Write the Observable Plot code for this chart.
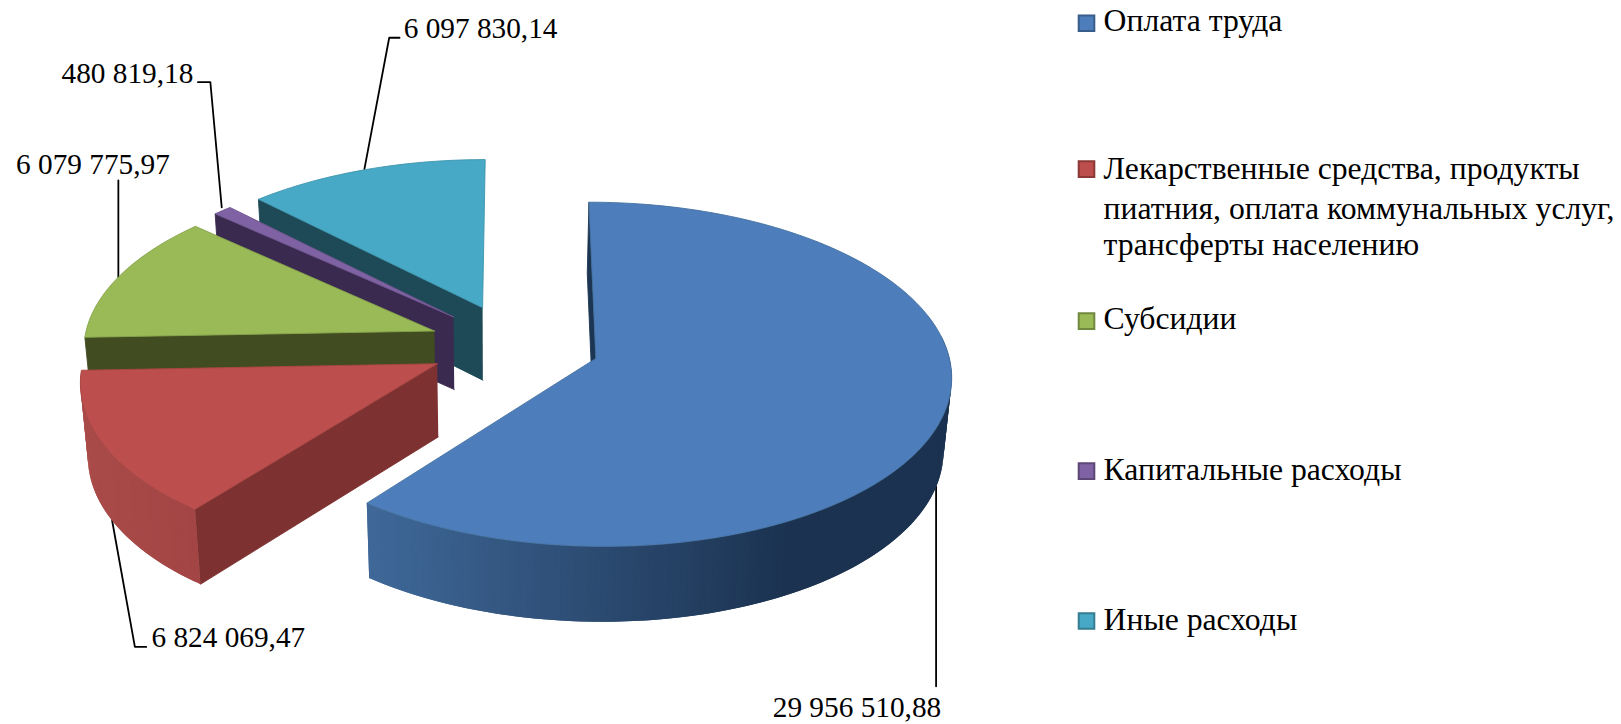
<!DOCTYPE html>
<html><head><meta charset="utf-8">
<script src="https://cdn.jsdelivr.net/npm/d3@7"></script>
<script src="https://cdn.jsdelivr.net/npm/@observablehq/plot@0.6"></script>
<style>html,body{margin:0;padding:0;background:#fff}svg{display:block}</style>
</head><body><div id="chart"></div>
<script>
const categories = ["Оплата труда","Лекарственные средства, продукты питания, оплата коммунальных услуг, трансферты населению","Субсидии","Капитальные расходы","Иные расходы"];
const values = [29956510.88, 6824069.47, 6079775.97, 480819.18, 6097830.14];
const valueLabels = ["29 956 510,88","6 824 069,47","6 079 775,97","480 819,18","6 097 830,14"];
const topColors = ["#4d7ebb","#bc4f4d","#99ba56","#7f62a3","#47a9c5"];
const edgeColors = ["#44709f","#a84644","#87a44c","#70568f","#3e94ad"];
const sideColors = ["#1c3552","#7d3130","#424c21","#3a2a4f","#1d4a56"];
const swatchBorders = ["#385d8a","#8c3836","#71893f","#5c4776","#357d91"];
const rimDark = ["#1b3250","#a24544"];
const rimLight = ["#3f6898","#a94b49"];

// Tilted, exploded pie in perspective
const cx=497, cy=333, R=339.5, Ry=162.6, k=0.0917, explode=0.244, depth=70.5, vx=480, shrink=0.018;
function project(a,b,bottom){
  const s=1/(1-k*b);
  let X=cx+R*a*s, Y=cy+Ry*b*s;
  if(bottom){X+=(vx-X)*shrink; Y+=depth*(1+(s-1)*0.3);}
  return [X,Y];
}
const arcs=d3.pie().sort(null).startAngle(0).endAngle(2*Math.PI)(values);
const pts=[]; let faceId=0;
function face(list,fill,stroke){
  const id=faceId++;
  for(const [x,y] of list) pts.push({x,y,id,fill,stroke});
}
const deg=Math.PI/180;
const order=[4,3,2,1,0];
for(const i of order){
  const {startAngle:a0,endAngle:a1}=arcs[i], mid=(a0+a1)/2;
  const ox=explode*Math.sin(mid), oy=-explode*Math.cos(mid);
  const at=(t,bottom)=>project(ox+Math.sin(t),oy-Math.cos(t),bottom);
  const apex=bottom=>project(ox,oy,bottom);
  // radial face at start angle
  face([apex(false),at(a0,false),at(a0,true),apex(true)],sideColors[i],sideColors[i]);
  // outer rim, front part only, in overlapping strips painted one over the other
  if(i<2){
    const lo=Math.max(a0,82*deg), hi=Math.min(a1,282*deg), n=Math.ceil((hi-lo)/(1*deg));
    const col=d3.interpolateRgb(rimDark[i],rimLight[i]);
    const [xl,xr]=i===0?[360,770]:[80,190];
    for(let j=0;j<n;j++){
      const t0=lo+(hi-lo)*j/n, t1=lo+(hi-lo)*Math.min(n,j+2)/n;
      const X=at(t0,false)[0];
      const c=col(Math.min(1,Math.max(0,(xr-X)/(xr-xl))));
      face([at(t0,false),at(t1,false),at(t1,true),at(t0,true)],c,"none");
    }
  }
  // top surface
  const n=Math.max(4,Math.ceil((a1-a0)/(1.5*deg)));
  const top=[apex(false)];
  for(let j=0;j<=n;j++) top.push(at(a0+(a1-a0)*j/n,false));
  top.push(apex(false));
  face(top,topColors[i],edgeColors[i]);
}

// Callouts (label text, leader path)
const labelX=[747,146,15,59,390], labelY=[684,616,159,71,27];
const leaders=[
  [[905,470],[905,663]],
  [[108,503],[130,625],[141,625]],
  [[114,268],[114,174]],
  [[214,200],[203,79],[191,79]],
  [[352,163],[376,36],[386,36]]
];
const leaderPts=leaders.flatMap((l,id)=>l.map(([x,y])=>({x,y,id})));
const labels=valueLabels.map((t,i)=>({t,x:labelX[i],y:labelY[i]}));

// Legend
const legendY=[22,163,310,455,600];
const legendLines=[
  {t:"Оплата труда",y:20},
  {t:"Лекарственные средства, продукты",y:163},
  {t:"пиатния, оплата коммунальных услуг,",y:201},
  {t:"трансферты населению",y:236},
  {t:"Субсидии",y:308},
  {t:"Капитальные расходы",y:454},
  {t:"Иные расходы",y:599}
];
const swatches=categories.map((c,i)=>({c,y:legendY[i],fill:topColors[i],stroke:swatchBorders[i]}));
const font="Liberation Serif";

const plot=Plot.plot({
  width:1621,height:724,margin:0,
  x:{domain:[0,1568],range:[0,1621],axis:null},
  y:{domain:[0,700],range:[0,724],axis:null},
  style:{background:"#fff"},
  marks:[
    Plot.line(leaderPts,{x:"x",y:"y",z:"id",stroke:"#000",strokeWidth:1.8}),
    Plot.line(pts,{x:"x",y:"y",z:"id",fill:"fill",stroke:"stroke",strokeWidth:0.9}),
    Plot.text(labels,{x:"x",y:"y",text:"t",textAnchor:"start",lineAnchor:"middle",fontFamily:font,fontSize:29.3,fill:"#000"}),
    Plot.dot(swatches,{x:1050.5,y:"y",symbol:"square",r:8.8,fill:"fill",stroke:"stroke",strokeWidth:2}),
    Plot.text(legendLines,{x:1067,y:"y",text:"t",textAnchor:"start",lineAnchor:"middle",fontFamily:font,fontSize:31.7,fill:"#000"})
  ]
});
document.getElementById("chart").append(plot);
</script></body></html>
